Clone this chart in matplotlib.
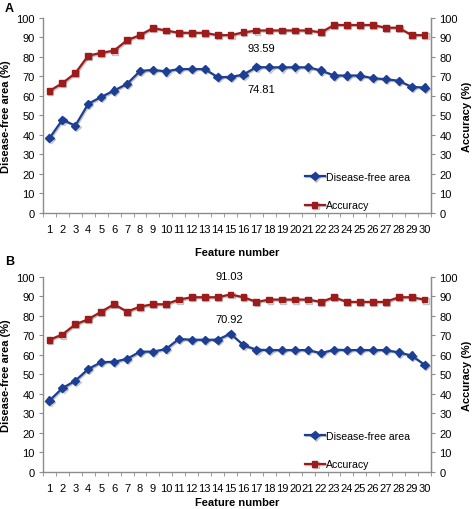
import matplotlib
matplotlib.use("Agg")
import matplotlib.pyplot as plt
import matplotlib.patheffects as pe

features = list(range(1, 31))
xtick_labels = [str(i) for i in features]

dfa_A = [38.4, 47.8, 44.8, 56.0, 59.5, 62.8, 66.2, 72.8, 73.4, 72.6,
         73.8, 73.8, 73.8, 69.7, 69.7, 71.0, 74.81, 74.7, 74.7, 74.7,
         74.7, 73.1, 70.5, 70.5, 70.5, 69.1, 68.6, 67.8, 64.7, 64.3]
acc_A = [62.6, 66.6, 71.7, 80.7, 82.1, 83.3, 88.6, 91.2, 94.8, 93.6,
         92.4, 92.4, 92.4, 91.2, 91.2, 92.6, 93.59, 93.6, 93.6, 93.6,
         93.6, 92.6, 96.4, 96.4, 96.4, 96.4, 95.0, 95.0, 91.2, 91.2]

dfa_B = [36.6, 43.0, 46.8, 52.8, 56.3, 56.5, 58.0, 61.7, 61.7, 63.0,
         68.2, 67.8, 67.8, 67.8, 70.92, 65.0, 62.7, 62.5, 62.5, 62.5,
         62.5, 60.9, 62.7, 62.5, 62.5, 62.5, 62.5, 61.3, 59.7, 55.0]
acc_B = [67.8, 70.5, 75.7, 78.3, 82.2, 86.0, 82.2, 84.8, 86.0, 86.0,
         88.4, 89.6, 89.6, 89.6, 91.03, 89.6, 87.2, 88.4, 88.4, 88.4,
         88.4, 87.2, 89.6, 87.2, 87.2, 87.2, 87.2, 89.6, 89.6, 88.4]

ann_A = [(17.4, 84.5, "93.59"), (17.4, 63.5, "74.81")]
ann_B = [(14.9, 100.3, "91.03"), (14.9, 78.3, "70.92")]

plt.rcParams['font.family'] = ['Liberation Sans', 'DejaVu Sans']

BLUE = "#1c3f94"
RED = "#9e1b1b"
GRAY = "#8c8c8c"

fig = plt.figure(figsize=(4.72, 5.10), dpi=100)

shadow = [pe.SimpleLineShadow(offset=(0.8, -0.8), shadow_color="#555555", alpha=0.35), pe.Normal()]


def panel(rect, dfa, acc, anns, letter, letter_y, xlabelpad):
    ax = fig.add_axes(rect)
    ax.plot(features, dfa, color=BLUE, marker="D", markersize=4.2, linewidth=1.6,
            label="Disease-free area", path_effects=shadow)
    ax.plot(features, acc, color=RED, marker="s", markersize=4.2, linewidth=1.6,
            label="Accuracy", path_effects=shadow)
    ax.set_xlim(0.5, 30.5)
    ax.set_ylim(0, 100)
    ax.set_yticks(range(0, 101, 10))
    ax.set_xticks(features)
    ax.set_xticklabels(xtick_labels)
    ax.set_xticks([i + 0.5 for i in range(0, 31)], minor=True)
    ax.tick_params(axis="x", which="major", length=0, labelsize=8, pad=8)
    ax.tick_params(axis="x", which="minor", length=3, color=GRAY, direction="out")
    ax.tick_params(axis="y", length=3, color=GRAY, labelsize=8, direction="out", pad=3)
    ax.spines["top"].set_visible(False)
    for s in ["left", "bottom", "right"]:
        ax.spines[s].set_color(GRAY)
        ax.spines[s].set_linewidth(1.0)
    ax.set_ylabel("Disease-free area (%)", fontsize=8, fontweight="bold", labelpad=4)
    ax.set_xlabel("Feature number", fontsize=8, fontweight="bold", labelpad=xlabelpad)

    ax2 = ax.twinx()
    ax2.set_ylim(0, 100)
    ax2.set_yticks(range(0, 101, 10))
    ax2.tick_params(axis="y", length=3, color=GRAY, labelsize=8, direction="out", pad=3)
    for s in ["top", "left", "bottom"]:
        ax2.spines[s].set_visible(False)
    ax2.spines["right"].set_color(GRAY)
    ax2.set_ylabel("Accuracy (%)", fontsize=8, fontweight="bold", labelpad=3)

    for x, y, t in anns:
        ax.text(x, y, t, fontsize=8, ha="center", va="center")

    ax.legend(loc="lower left", bbox_to_anchor=(0.655, -0.025), frameon=False,
              fontsize=7.6, labelspacing=1.75, handlelength=1.9, handletextpad=0.1,
              borderaxespad=0.3)
    fig.text(0.01, letter_y, letter, fontsize=9, fontweight="bold", va="center")
    return ax


panel([0.0911, 0.5804, 0.822, 0.3824], dfa_A, acc_A, ann_A, "A", 0.983, 9)
panel([0.0911, 0.0726, 0.822, 0.3824], dfa_B, acc_B, ann_B, "B", 0.487, 3)

fig.savefig("out.png", dpi=100)
